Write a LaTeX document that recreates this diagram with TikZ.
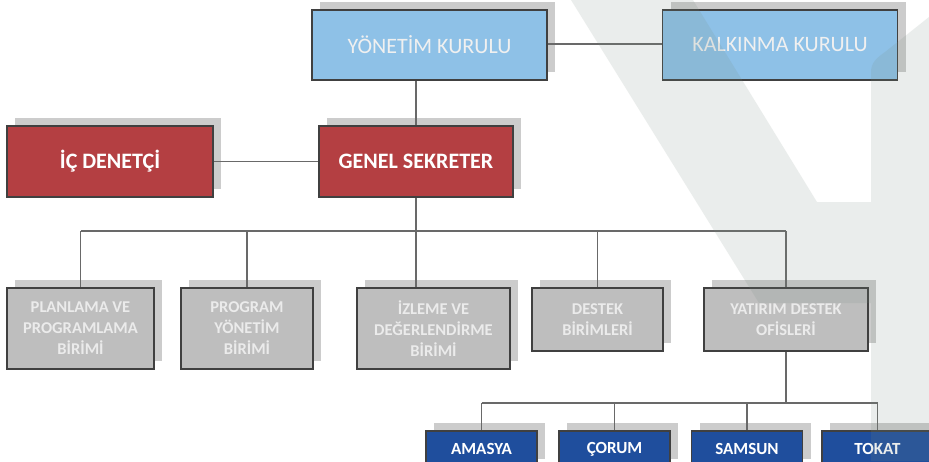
\documentclass[tikz,border=0pt]{standalone}
\usepackage{fontspec}
\setmainfont{Carlito}
\usetikzlibrary{shadows}

\definecolor{kurulblue}{RGB}{142,193,231}
\definecolor{sekred}{RGB}{180,63,66}
\definecolor{birimgray}{RGB}{190,190,190}
\definecolor{ilblue}{RGB}{31,78,157}
\definecolor{shadowgray}{RGB}{204,204,204}
\definecolor{linegray}{RGB}{105,105,105}
\definecolor{markgray}{RGB}{120,140,130}

\begin{document}
\begin{tikzpicture}[x=1pt, y=-1pt,
    box/.style={draw=black!75, line width=1.2pt, inner sep=0pt, align=center,
      drop shadow={shadow xshift=8pt, shadow yshift=8pt, fill=shadowgray, opacity=1}},
    kurul/.style={box, fill=kurulblue, text=white!94!black, minimum width=235, minimum height=70,
      font=\fontsize{22}{26}\selectfont},
    sekreter/.style={box, fill=sekred, text=white, minimum height=71,
      font=\bfseries\fontsize{22}{26}\selectfont},
    birim/.style={box, fill=birimgray, text=white!92!black,
      font=\bfseries\fontsize{16.5}{21}\selectfont},
    il/.style={box, fill=ilblue, text=white, minimum width=111, minimum height=36,
      font=\bfseries\fontsize{17}{20}\selectfont},
    line/.style={draw=linegray, line width=1.5pt}]
  \clip (0,0) rectangle (929,461);
  \fill[white] (0,0) rectangle (929,461);

  \node[kurul] (yk) at (429.5,45) {YÖNETİM KURULU};
  \node[kurul] (kk) at (780,45) {KALKINMA KURULU};
  \node[sekreter, minimum width=206] (ic) at (110,161.5) {İÇ DENETÇİ};
  \node[sekreter, minimum width=194] (gs) at (416,161.5) {GENEL SEKRETER};

  \foreach \x/\w/\h/\txt [count=\i] in {80.5/147/81/{PLANLAMA VE\\PROGRAMLAMA\\BİRİMİ},
      247/132/81/{PROGRAM\\YÖNETİM\\BİRİMİ}, 433.5/153/81/{İZLEME VE\\DEĞERLENDİRME\\BİRİMİ},
      597.5/131/63/{DESTEK\\BİRİMLERİ}, 786/164/63/{YATIRIM DESTEK\\OFİSLERİ}}
    \node[birim, minimum width=\w, minimum height=\h] (b\i) at (\x,{288+\h/2}) {\txt};

  \foreach \x/\txt [count=\i] in {481.5/AMASYA, 614.5/ÇORUM, 747/SAMSUN, 877.5/TOKAT}
    \node[il] (il\i) at (\x,449) {\txt};

  \coordinate (bus) at (0,231);
  \coordinate (bus2) at (0,403);
  \draw[line] (yk.east |- 0,44) -- (kk.west |- 0,44);
  \draw[line] (gs.north |- yk.south) -- (gs.north);
  \draw[line] (ic.east) -- (gs.west);
  \draw[line] (gs.south) -- (gs.south |- b3.north);
  \draw[line] (b1.north |- bus) -- (b5.north |- bus);
  \foreach \i in {1,2,4,5}
    \draw[line] (b\i.north |- bus) -- (b\i.north);
  \draw[line] (b5.south) -- (b5.south |- bus2);
  \draw[line] (il1.north |- bus2) -- (il4.north |- bus2);
  \foreach \i in {1,...,4}
    \draw[line] (il\i.north |- bus2) -- (il\i.north);

  \fill[markgray, fill opacity=0.15] (571,0) -- (693,0) -- (817,202) -- (871,202)
    -- (871,72) to[out=-90+180, in=-145] (885,52) -- (929,17) -- (929,461) -- (871,461)
    -- (871,303) -- (759,303) -- cycle;
\end{tikzpicture}
\end{document}
